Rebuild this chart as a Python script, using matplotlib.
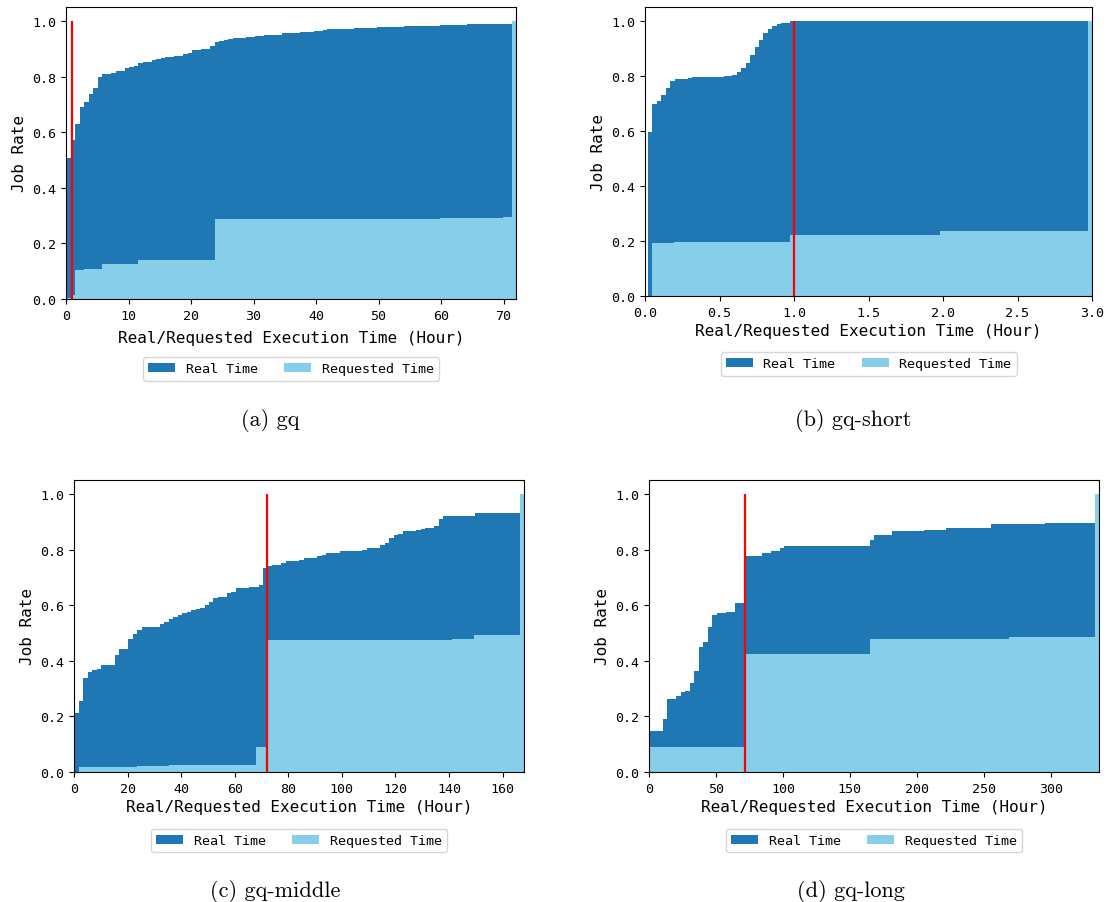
import matplotlib
matplotlib.use("Agg")
import matplotlib.pyplot as plt

# cumulative job rate per bin (bin edges in hours)
gq_real_edges = [0, 0.72, 1.44, 2.16, 2.88, 3.6, 4.32, 5.04, 5.76, 7.2, 7.92, 9.36, 10.08, 10.8,
                 11.52, 12.24, 12.96, 13.68, 14.4, 15.12, 15.84, 17.28, 18.72, 19.44, 20.16, 21.6,
                 23.04, 23.76, 24.48, 25.2, 25.92, 26.64, 28.8, 30.24, 31.68, 34.56, 37.44, 39.6,
                 41.04, 41.76, 46.08, 49.68, 54.0, 59.76, 64.08, 71.28, 72.0]
gq_real_rate = [0.507, 0.57, 0.629, 0.692, 0.708, 0.737, 0.758, 0.80, 0.808, 0.812,
                0.819, 0.829, 0.833, 0.837, 0.847, 0.851, 0.854, 0.859, 0.863, 0.868,
                0.872, 0.875, 0.88, 0.885, 0.896, 0.899, 0.908, 0.923, 0.927, 0.930,
                0.934, 0.938, 0.943, 0.947, 0.951, 0.956, 0.959, 0.962, 0.966, 0.970,
                0.974, 0.977, 0.981, 0.984, 0.988, 1.0]
gq_req_edges = [0, 0.72, 1.44, 2.88, 5.76, 11.52, 23.76, 59.76, 69.84, 71.28, 72.0]
gq_req_rate = [0.005, 0.015, 0.104, 0.109, 0.126, 0.140, 0.287, 0.291, 0.295, 1.0]

short_real_edges = [0.02, 0.05, 0.08, 0.109, 0.139, 0.169, 0.199, 0.288, 0.318, 0.527, 0.586,
                    0.616, 0.646, 0.676, 0.705, 0.735, 0.765, 0.795, 0.825, 0.854, 0.884,
                    0.914, 0.974, 1.003, 2.97]
short_real_rate = [0.597, 0.696, 0.710, 0.731, 0.754, 0.780, 0.787, 0.791, 0.794, 0.798,
                   0.802, 0.813, 0.827, 0.845, 0.875, 0.904, 0.929, 0.956, 0.970, 0.981,
                   0.988, 0.991, 0.998, 0.999]
short_req_edges = [0.047, 0.196, 0.975, 1.98, 2.97, 3.0]
short_req_rate = [0.192, 0.196, 0.221, 0.236, 1.0]

middle_real_edges = [0, 1.68, 3.36, 5.04, 6.72, 8.4, 10.08, 15.12, 16.8, 20.16, 21.84, 23.52,
                     25.2, 26.88, 31.92, 33.6, 35.28, 36.96, 38.64, 40.32, 42.0, 43.68, 45.36,
                     47.04, 48.72, 50.4, 52.08, 53.76, 57.12, 58.8, 60.48, 62.16, 65.52, 68.88,
                     70.56, 72.24, 73.92, 75.6, 77.28, 78.96, 84.0, 85.68, 89.04, 90.72, 92.4,
                     94.08, 97.44, 99.12, 102.48, 107.52, 109.2, 110.88, 114.24, 115.92, 117.6,
                     119.28, 120.96, 122.64, 124.32, 127.68, 129.36, 131.04, 134.4, 136.08,
                     137.76, 139.44, 149.52, 166.32]
middle_real_rate = [0.213, 0.257, 0.337, 0.358, 0.365, 0.369, 0.383, 0.419, 0.444, 0.477,
                    0.498, 0.509, 0.520, 0.523, 0.531, 0.538, 0.549, 0.559, 0.564, 0.570,
                    0.574, 0.581, 0.586, 0.589, 0.599, 0.610, 0.624, 0.631, 0.642, 0.649,
                    0.660, 0.663, 0.667, 0.671, 0.735, 0.739, 0.743, 0.746, 0.753, 0.760,
                    0.764, 0.768, 0.771, 0.775, 0.782, 0.786, 0.789, 0.793, 0.796, 0.800,
                    0.804, 0.807, 0.818, 0.825, 0.840, 0.854, 0.857, 0.865, 0.868, 0.872,
                    0.875, 0.879, 0.883, 0.911, 0.919, 0.922, 0.933]
middle_req_edges = [1.68, 23.52, 35.28, 68.0, 71.7, 141.2, 149.5, 166.32, 168.0]
middle_req_rate = [0.017, 0.020, 0.024, 0.090, 0.473, 0.477, 0.492, 1.0]

long_real_edges = [0, 10.08, 13.44, 20.16, 23.52, 26.88, 30.24, 33.6, 36.96, 40.32, 43.68,
                   47.04, 50.4, 57.12, 63.84, 70.56, 84.0, 90.72, 97.44, 100.8, 164.64, 168.0,
                   181.44, 204.96, 221.76, 255.36, 295.68, 332.64]
long_real_rate = [0.146, 0.189, 0.261, 0.275, 0.286, 0.293, 0.319, 0.362, 0.448, 0.466,
                  0.520, 0.563, 0.570, 0.577, 0.606, 0.778, 0.786, 0.793, 0.804, 0.811,
                  0.836, 0.854, 0.865, 0.872, 0.879, 0.890, 0.897]
long_req_edges = [0, 70.56, 164.64, 268.8, 332.64, 336.0]
long_req_rate = [0.090, 0.424, 0.477, 0.485, 1.0]

# queue time limit (hours) and x-range per queue
limits = [1, 1, 72, 72]
xmax = [72, 3, 168, 336]
captions = ["(a) gq", "(b) gq-short", "(c) gq-middle", "(d) gq-long"]

W, H = 1107, 903
MONO = "DejaVu Sans Mono"


def plot_panel(box, real_edges, real_rate, req_edges, req_rate, limit, right, legend_dy, pad=3):
    # box is (left, right, top, bottom) in pixels
    l, r, t, b = box
    ax = fig.add_axes([l / W, (H - b) / H, (r - l) / W, (b - t) / H])

    ax.stairs(real_rate, real_edges, fill=True, color="#1f77b4", label="Real Time")
    ax.stairs(req_rate, req_edges, fill=True, color="skyblue", label="Requested Time")
    ax.vlines(x=limit, ymin=0, ymax=1, color="red", linewidth=1.6)

    ax.set_xlim(0, right)
    ax.set_ylim(0, 1.05)
    ax.set_ylabel("Job Rate", fontsize=11.5, fontfamily=MONO)
    ax.set_xlabel("Real/Requested Execution Time (Hour)", fontsize=11.5, fontfamily=MONO, labelpad=pad)
    ax.tick_params(labelsize=9.6)
    for lab in ax.get_xticklabels() + ax.get_yticklabels():
        lab.set_fontfamily(MONO)

    ax.legend(loc="upper center", bbox_to_anchor=(0.5, legend_dy), ncol=2,
              prop={"family": MONO, "size": 9.6})
    return ax


fig = plt.figure(figsize=(W / 100, H / 100), dpi=100)

plot_panel((66, 516, 8, 300), gq_real_edges, gq_real_rate, gq_req_edges, gq_req_rate,
           limits[0], xmax[0], -0.176, pad=6)
plot_panel((645, 1092, 8, 297), short_real_edges, short_real_rate, short_req_edges,
           short_req_rate, limits[1], xmax[1], -0.171)
plot_panel((74, 524, 481, 773), middle_real_edges, middle_real_rate, middle_req_edges,
           middle_req_rate, limits[2], xmax[2], -0.171)
plot_panel((649, 1099, 481, 773), long_real_edges, long_real_rate, long_req_edges,
           long_req_rate, limits[3], xmax[3], -0.171)

# sub-figure captions
cap_pos = [(270, 420), (853, 420), (275, 892), (851, 892)]
for (cx, cy), txt in zip(cap_pos, captions):
    fig.text(cx / W, (H - cy) / H, txt, ha="center", va="center", fontsize=16, fontfamily="cmr10")

fig.savefig("out.png", dpi=100)
plt.close(fig)
